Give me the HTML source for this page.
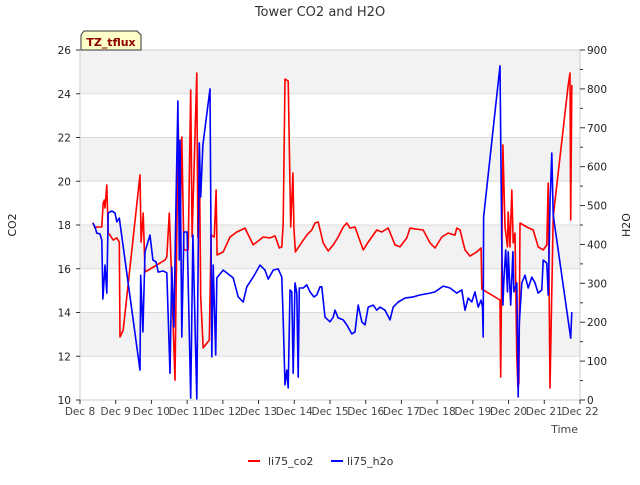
<!DOCTYPE html>
<html><head><meta charset="utf-8"><style>
body{margin:0;background:#fff;}
svg text{font-family:"DejaVu Sans","Liberation Sans",sans-serif;}
</style></head><body>
<svg id="chart" width="640" height="480" xmlns="http://www.w3.org/2000/svg">
<text x="320" y="16" text-anchor="middle" font-size="13" fill="#333">Tower CO2 and H2O</text>
<g id="bands"></g>
<g id="grid"></g>
<rect x="80" y="50" width="500" height="350" fill="none" stroke="#ccc"/>
<g id="axes"></g>
<g id="series"></g>
<text x="16" y="225" font-size="11" fill="#222" text-anchor="middle" transform="rotate(-90 16 225)">CO2</text>
<text x="630" y="225" font-size="11" fill="#222" text-anchor="middle" transform="rotate(-90 630 225)">H2O</text>
<text x="578" y="433" font-size="11" fill="#444" text-anchor="end">Time</text>
<g>
<path d="M84,31 L137,31 L141,35 L141,50 L81,50 L81,35 Z" fill="#ffffc8" stroke="#333" stroke-width="1"/>
<text x="111" y="46" font-size="11" font-weight="bold" fill="#8b0000" text-anchor="middle">TZ_tflux</text>
</g>
<g>
<line x1="248" y1="461" x2="260" y2="461" stroke="#f00" stroke-width="2"/>
<text x="268" y="465" font-size="11" fill="#333">li75_co2</text>
<line x1="331" y1="461" x2="343" y2="461" stroke="#00f" stroke-width="2"/>
<text x="347" y="465" font-size="11" fill="#333">li75_h2o</text>
</g>
</svg>
<script>
const xTickLabels=["Dec 8","Dec 9","Dec 10","Dec 11","Dec 12","Dec 13","Dec 14","Dec 15","Dec 16","Dec 17","Dec 18","Dec 19","Dec 20","Dec 21","Dec 22"];
const xTickDays=[8,9,10,11,12,13,14,15,16,17,18,19,20,21,22];
const leftTicks=[10,12,14,16,18,20,22,24,26];
const rightTicks=[0,100,200,300,400,500,600,700,800,900];
const co2Days=[8.36,8.42,8.47,8.61,8.65,8.68,8.70,8.75,8.79,8.84,8.93,9.03,9.10,9.12,9.21,9.68,9.71,9.77,9.82,10.15,10.38,10.43,10.50,10.55,10.66,10.75,10.80,10.85,10.91,11.03,11.10,11.14,11.27,11.30,11.34,11.38,11.45,11.62,11.67,11.76,11.81,11.84,12.01,12.20,12.39,12.62,12.85,13.13,13.32,13.46,13.58,13.65,13.69,13.74,13.83,13.90,13.96,13.99,14.03,14.16,14.35,14.49,14.58,14.67,14.77,14.81,14.95,15.09,15.23,15.37,15.47,15.56,15.70,15.93,16.07,16.31,16.45,16.63,16.82,16.96,17.15,17.24,17.38,17.61,17.80,17.94,18.13,18.31,18.50,18.55,18.64,18.78,18.92,19.11,19.23,19.25,19.76,19.78,19.84,19.90,19.97,19.99,20.04,20.09,20.13,20.18,20.23,20.26,20.29,20.32,20.51,20.69,20.83,20.97,21.07,21.11,21.16,21.25,21.67,21.72,21.74,21.77];
const co2Values=[18.11,17.86,17.91,17.91,19.01,19.14,18.78,19.83,17.63,17.54,17.31,17.41,17.22,12.88,13.20,20.29,17.22,18.55,15.85,16.17,16.40,16.54,18.55,16.26,10.91,22.71,16.95,22.02,16.86,16.86,24.17,17.45,24.95,17.41,21.66,14.71,12.38,12.74,17.54,17.45,19.60,16.63,16.77,17.45,17.68,17.86,17.09,17.45,17.41,17.50,16.95,17.0,18.09,24.67,24.58,17.91,20.38,17.86,16.77,17.09,17.54,17.77,18.09,18.14,17.45,17.18,16.81,17.09,17.45,17.91,18.09,17.86,17.91,16.86,17.22,17.77,17.68,17.86,17.09,17.0,17.41,17.86,17.82,17.77,17.18,16.95,17.45,17.63,17.54,17.86,17.77,16.86,16.58,16.77,16.95,15.07,14.57,11.05,21.66,17.91,17.0,18.59,17.0,19.6,17.18,17.63,11.97,10.59,10.78,18.09,17.91,17.77,17.0,16.86,17.09,19.92,10.55,18.37,24.4,24.95,18.23,24.4];
const h2oDays=[8.36,8.42,8.47,8.56,8.61,8.64,8.70,8.75,8.79,8.89,8.98,9.03,9.10,9.68,9.70,9.76,9.82,9.96,10.04,10.13,10.19,10.33,10.43,10.52,10.57,10.63,10.69,10.74,10.78,10.80,10.85,10.91,11.00,11.10,11.16,11.27,11.34,11.38,11.44,11.64,11.69,11.73,11.80,11.83,12.01,12.29,12.43,12.57,12.67,12.85,13.04,13.18,13.27,13.41,13.55,13.65,13.69,13.74,13.79,13.83,13.88,13.93,13.97,14.02,14.07,14.11,14.14,14.25,14.35,14.44,14.55,14.63,14.72,14.77,14.86,15.00,15.09,15.14,15.23,15.37,15.47,15.61,15.70,15.79,15.89,15.98,16.07,16.21,16.31,16.40,16.54,16.68,16.77,16.91,17.10,17.33,17.52,17.80,17.94,18.17,18.36,18.55,18.69,18.78,18.87,18.97,19.06,19.15,19.23,19.27,19.29,19.30,19.76,19.81,19.84,19.87,19.92,19.97,19.99,20.06,20.12,20.15,20.23,20.27,20.30,20.37,20.46,20.55,20.65,20.74,20.83,20.93,20.97,21.07,21.11,21.16,21.21,21.25,21.74,21.77];
const h2oValues=[455,445,429,427,411,260,347,275,481,486,481,458,468,77,321,175,381,424,360,355,329,332,327,69,342,188,522,769,360,668,162,432,432,5,424,3,661,522,656,800,111,347,116,314,334,314,265,252,291,316,347,334,311,334,337,316,206,39,77,31,283,278,69,301,275,59,288,288,296,278,265,270,291,291,213,201,213,231,211,206,193,170,175,244,201,193,239,244,231,239,231,206,239,252,262,265,270,275,278,293,288,275,283,231,262,252,278,239,257,239,162,470,859,393,244,309,386,278,381,244,381,278,301,8,198,301,321,288,316,301,275,283,360,352,270,506,635,476,159,226];

const X0=80,X1=580,Y0=400,Y1=50;
function xs(d){return X0+(d-8)/14*(X1-X0);}
function yl(v){return Y0-(v-10)/16*(Y0-Y1);}
function yr(v){return Y0-v/900*(Y0-Y1);}
const NS="http://www.w3.org/2000/svg";
function mk(tag,attrs,parent,text){const e=document.createElementNS(NS,tag);for(const k in attrs)e.setAttribute(k,attrs[k]);if(text!==undefined)e.textContent=text;document.getElementById(parent).appendChild(e);return e;}
for(let i=0;i<leftTicks.length-1;i++){
  if(i%2===1){
    const r=mk('rect',{x:X0,y:yl(leftTicks[i+1]),width:X1-X0,height:yl(leftTicks[i])-yl(leftTicks[i+1]),fill:'#f2f2f2'},'bands');
    
    
  }
}
leftTicks.forEach(v=>{
  const l=mk('line',{x1:X0,x2:X1,y1:yl(v),y2:yl(v),stroke:'#dcdcdc'},'grid');
  
  
  const tk=mk('line',{x1:X0-4,x2:X0,y1:yl(v),y2:yl(v),stroke:'#333'},'axes');
  
  
  const t=mk('text',{x:X0-9,y:yl(v)+4,'font-size':10.5,fill:'#222','text-anchor':'end'},'axes',String(v));
  
  
});
for(let v=0;v<=900;v+=50){
  const tk=mk('line',{x1:X1,x2:X1+(v%100===0?5:3),y1:yr(v),y2:yr(v),stroke:'#333'},'axes');
  
  
}
rightTicks.forEach(v=>{
  const t=mk('text',{x:X1+7,y:yr(v)+4,'font-size':10.5,fill:'#222'},'axes',String(v));
  
  
});
xTickDays.forEach((d,i)=>{
  const tk=mk('line',{x1:xs(d),x2:xs(d),y1:Y0,y2:Y0+4,stroke:'#333'},'axes');
  
  
  const t=mk('text',{x:xs(d),y:Y0+15,'font-size':10.5,fill:'#444','text-anchor':'middle'},'axes',xTickLabels[i]);
  
  
});
function line(days,vals,yf,color,name){
  const d=days.map((x,i)=>(i?'L':'M')+xs(x).toFixed(1)+','+yf(vals[i]).toFixed(1)).join(' ');
  const p=mk('path',{d:d,fill:'none',stroke:color,'stroke-width':1.6,'stroke-linejoin':'round'},'series');
  
  
}
line(co2Days,co2Values,yl,'#ff0000','co2-line');
line(h2oDays,h2oValues,yr,'#0000ff','h2o-line');
</script>
</body></html>
